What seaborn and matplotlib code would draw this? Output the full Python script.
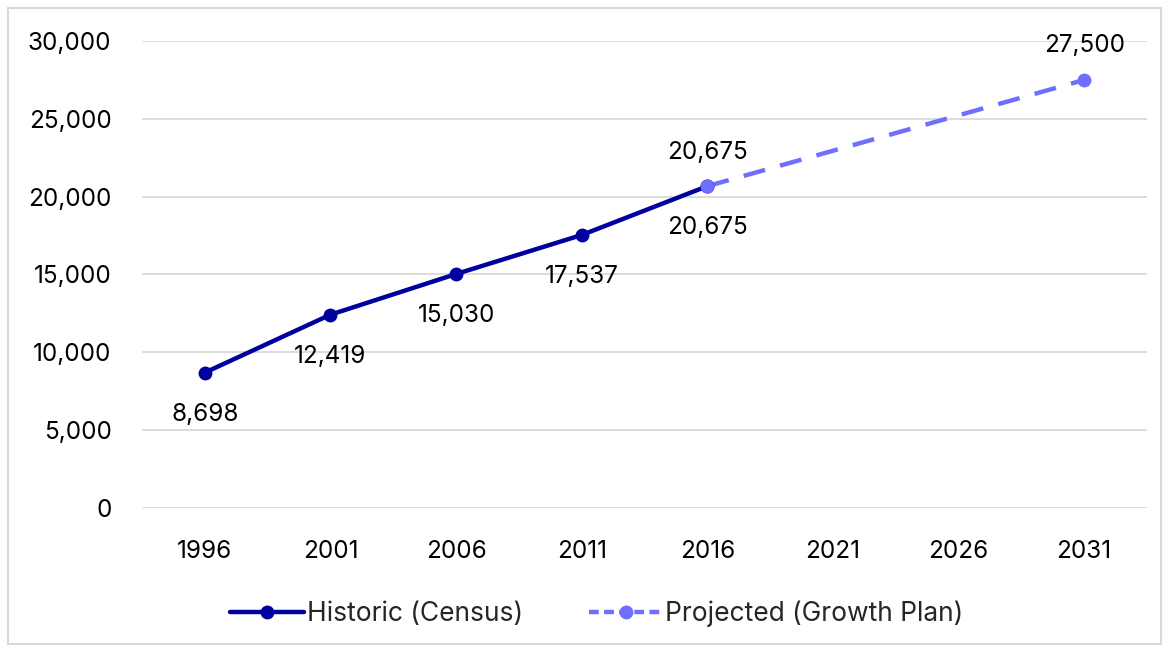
import matplotlib
matplotlib.use("Agg")
import matplotlib.pyplot as plt
import matplotlib.patches as mpatches
from matplotlib.lines import Line2D
from matplotlib.ticker import FuncFormatter
import pandas as pd
import seaborn as sns

years = [1996, 2001, 2006, 2011, 2016, 2021, 2026, 2031]
historic_years = [1996, 2001, 2006, 2011, 2016]
historic_values = [8698, 12419, 15030, 17537, 20675]
projected_years = [2016, 2031]
projected_values = [20675, 27500]

hist_color = "#00009E"
proj_color = "#6F6FFF"

sns.set_theme(style="white")
plt.rcParams["font.family"] = ["Inter", "DejaVu Sans"]

fig = plt.figure(figsize=(11.68, 6.52), dpi=100)
ax = fig.add_axes([0.1216, 0.2209, 0.8604, 0.7162])

hist_df = pd.DataFrame({"year": historic_years, "value": historic_values})
proj_df = pd.DataFrame({"year": projected_years, "value": projected_values})

sns.lineplot(data=proj_df, x="year", y="value", ax=ax, color=proj_color,
             linewidth=3.2, marker="o", markersize=10, markeredgewidth=0,
             dashes=False, zorder=3)
ax.lines[-1].set_dashes((5, 3.5))
sns.lineplot(data=hist_df, x="year", y="value", ax=ax, color=hist_color,
             linewidth=3.2, marker="o", markersize=10, markeredgewidth=0,
             zorder=4)
# projected start marker drawn on top of the historic line end
ax.plot(projected_years[:1], projected_values[:1], "o", color=proj_color,
        markersize=10, markeredgewidth=0, zorder=5)

ax.set_xlim(1993.5, 2033.5)
ax.set_ylim(0, 30000)
ax.set_xticks(years)
ax.set_xticklabels([str(y) for y in years])
ax.set_yticks(range(0, 30001, 5000))
ax.yaxis.set_major_formatter(FuncFormatter(lambda v, p: f"{int(v):,}"))
ax.tick_params(axis="both", labelsize=17.5, colors="black", length=0)
ax.tick_params(axis="y", pad=22)
ax.tick_params(axis="x", pad=23)
ax.grid(axis="y", color="#D9D9D9", linewidth=1.3)
ax.set_axisbelow(True)
for s in ax.spines.values():
    s.set_visible(False)
ax.set_xlabel("")
ax.set_ylabel("")

for x, v in zip(historic_years, historic_values):
    ax.annotate(f"{v:,}", (x, v), xytext=(0, -30), textcoords="offset points",
                ha="center", va="center", fontsize=17.5, color="black")
for x, v in zip(projected_years, projected_values):
    ax.annotate(f"{v:,}", (x, v), xytext=(0, 24.5), textcoords="offset points",
                ha="center", va="center", fontsize=17.5, color="black")

handles = [
    Line2D([0], [0], color=hist_color, lw=3.2, marker="o", markersize=10,
           markeredgewidth=0),
    Line2D([0], [0], color=proj_color, lw=3.2, marker="o", markersize=10,
           markeredgewidth=0, dashes=(2.2, 1.2)),
]
fig.legend(handles, ["Historic (Census)", "Projected (Growth Plan)"],
           loc="center", bbox_to_anchor=(0.511, 0.059), ncol=2, frameon=False,
           fontsize=19, handlelength=2.8, handletextpad=0.1, columnspacing=2.5)

fig.patches.append(mpatches.Rectangle((0.007, 0.012), 0.987, 0.976,
                                      transform=fig.transFigure, fill=False,
                                      edgecolor="#D9D9D9", linewidth=1.5))

fig.savefig("out.png", dpi=100)
